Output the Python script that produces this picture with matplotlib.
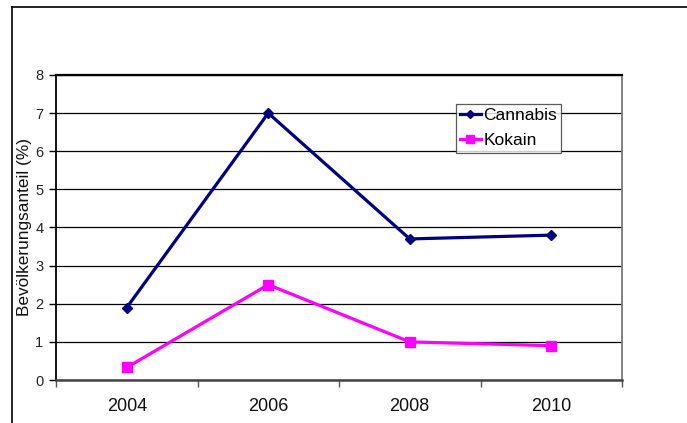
import numpy as np
import matplotlib.pyplot as plt
from matplotlib.lines import Line2D

# data
years = ['2004', '2006', '2008', '2010']
cannabis = [1.9, 7.0, 3.7, 3.8]
kokain = [0.33, 2.5, 1.0, 0.9]
yticks = [0, 1, 2, 3, 4, 5, 6, 7, 8]

plt.rcParams['font.family'] = ['Liberation Sans', 'DejaVu Sans']

fig = plt.figure(figsize=(6.87, 4.23), dpi=100)
W, H = 687, 423

# outer frame like the Excel chart area
fig.add_artist(Line2D([12 / W, 1], [1 - 7 / H, 1 - 7 / H], transform=fig.transFigure, color='black', lw=1.2))
fig.add_artist(Line2D([12 / W, 12 / W], [0, 1 - 7 / H], transform=fig.transFigure, color='black', lw=1.2))

ax = fig.add_axes([56 / W, (H - 380) / H, 566 / W, 305 / H])
x = np.arange(len(years))

ax.plot(x, cannabis, color='#000080', lw=2.3, marker='D', ms=5, label='Cannabis', zorder=3)
ax.plot(x, kokain, color='#FF00FF', lw=2.3, marker='s', ms=6.5, label='Kokain', zorder=3)

ax.set_xlim(-0.5, len(years) - 0.5)
ax.set_ylim(0, 8)
ax.set_yticks(yticks)
ax.set_yticklabels([str(v) for v in yticks], fontsize=10.5, color='#222222')
ax.yaxis.grid(True, color='black', lw=0.9)
ax.set_axisbelow(True)

ax.set_xticks(x)
ax.set_xticklabels(years, fontsize=13, color='#111111')
ax.tick_params(axis='x', which='major', length=0, pad=13)
ax.set_xticks(np.arange(-0.5, len(years)), minor=True)
ax.tick_params(axis='x', which='minor', length=5, width=1, color='#555555', direction='out')
ax.tick_params(axis='y', length=5, width=1, pad=4)

ax.spines['left'].set_color('black')
ax.spines['left'].set_linewidth(1.3)
ax.spines['top'].set_color('black')
ax.spines['top'].set_linewidth(1.6)
ax.spines['right'].set_color('#777777')
ax.spines['right'].set_linewidth(1.3)
ax.spines['bottom'].set_color('#444444')
ax.spines['bottom'].set_linewidth(1.8)

ax.set_ylabel('Bevölkerungsanteil (%)', fontsize=12.4, labelpad=2, color='#111111')

leg = ax.legend(loc='upper left', bbox_to_anchor=(0.706, 0.905), fontsize=12.5, frameon=True,
                fancybox=False, edgecolor='#333333', handlelength=1.2, handletextpad=0.15,
                borderpad=0.25, labelspacing=0.55, borderaxespad=0, markerscale=0.8)
leg.get_frame().set_linewidth(0.9)

fig.savefig('out.png', dpi=100)
